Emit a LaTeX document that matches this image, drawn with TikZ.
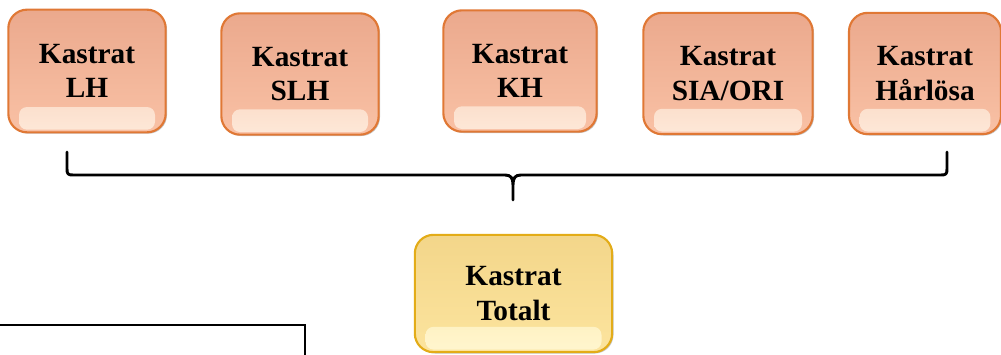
\documentclass[tikz,border=0pt]{standalone}
\usepackage{fontspec}
\setmainfont{Liberation Serif}
\usetikzlibrary{shadows}
\definecolor{laxkant}{HTML}{E07835}
\definecolor{laxtopp}{HTML}{EBA98D}
\definecolor{laxbotten}{HTML}{F9C1A5}
\definecolor{laxglans}{HTML}{FDE8D8}
\definecolor{guldkant}{HTML}{E3AC18}
\definecolor{guldtopp}{HTML}{F3D68A}
\definecolor{guldbotten}{HTML}{FCE49E}
\definecolor{guldglans}{HTML}{FFF6CF}
\tikzset{
  knapp/.style n args={4}{draw=#1,line width=1.6pt,rounded corners=14pt,
    top color=#2,bottom color=#3,align=center,
    font=\fontsize{22}{26}\selectfont\bfseries,
    drop shadow={shadow xshift=1pt,shadow yshift=-1pt,fill=black!50,opacity=.45},
    path picture={\shade[top color=#3,bottom color=#4,rounded corners=6pt]
      ([xshift=8pt,yshift=2pt]path picture bounding box.south west) rectangle
      ([xshift=-8pt,yshift=19pt]path picture bounding box.south east);}},
  lax/.style={knapp={laxkant}{laxtopp}{laxbotten}{laxglans}},
  guld/.style={knapp={guldkant}{guldtopp}{guldbotten}{guldglans}}
}
\begin{document}
\begin{tikzpicture}[x=0.75pt,y=-0.75pt]
\useasboundingbox (0,0) rectangle (1001,354);
% fem kastratgrupper
\node[lax,minimum width=118pt,minimum height=92pt] (lh) at (87,71) {Kastrat\\LH};
\node[lax,minimum width=118pt,minimum height=91pt] (slh) at (300,74) {Kastrat\\SLH};
\node[lax,minimum width=115pt,minimum height=91pt] (kh) at (520,71) {Kastrat\\KH};
\node[lax,minimum width=127pt,minimum height=91pt] (sia) at (728,73.5) {Kastrat\\SIA/ORI};
\node[lax,minimum width=114pt,minimum height=91pt] (har) at (925,73.5) {Kastrat\\Hårlösa};
% totalen
\node[guld,minimum width=148pt,minimum height=88pt] (tot) at (513.5,293.5) {Kastrat\\Totalt};
% klammern
\coordinate (vtopp) at (67,152);
\coordinate (htopp) at (947,152);
\coordinate (spets) at (513,200);
\draw[line width=2.2pt,line cap=round,line join=round]
  (vtopp) -- (67,169) .. controls (67,174) and (68,175) .. (73,175) -- (505,175)
  .. controls (511,175) and (513,178) .. (513,185) -- (spets)
  (513,185) .. controls (513,178) and (515,175) .. (521,175) -- (941,175)
  .. controls (946,175) and (947,174) .. (947,169) -- (htopp);
% avskuren ruta nere till vanster
\draw[line width=1.1pt] (-5,325) rectangle (305,380);
\end{tikzpicture}
\end{document}
